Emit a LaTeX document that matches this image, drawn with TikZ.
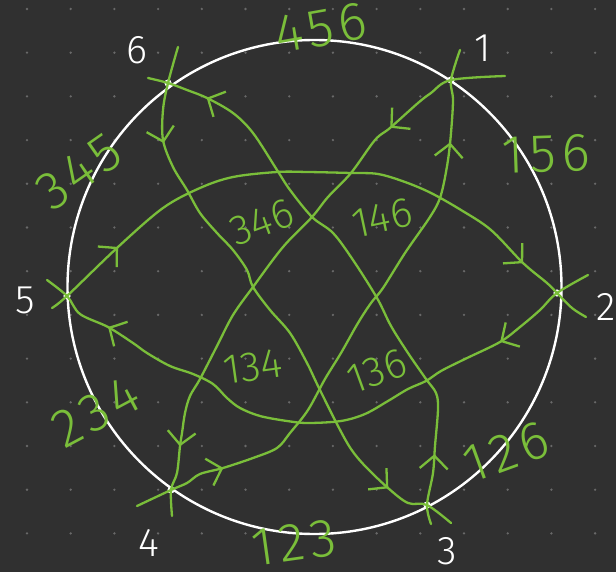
\documentclass[tikz,border=0pt]{standalone}
\usepackage{fontspec}
\newfontfamily\hand{Fira Sans Light}
\newfontfamily\handwide{Fira Sans Light}[LetterSpace=10]
\usetikzlibrary{arrows.meta,decorations.markings}
\definecolor{bg}{RGB}{48,48,48}
\definecolor{gridc}{RGB}{105,105,105}
\definecolor{lgreen}{RGB}{122,190,58}
\tikzset{
  ahead/.tip={Straight Barb[length=13pt,width=28pt]},
  gline/.style={draw=lgreen, line width=2.3pt, line cap=round, line join=round},
  twoarrows/.style 2 args={postaction={decorate}, decoration={markings,
      mark=at position #1 with {\arrow{ahead}},
      mark=at position #2 with {\arrow{ahead}}}},
  wlabel/.style={text=white, font=\hand\fontsize{40}{40}\selectfont, inner sep=0pt},
  olabel/.style={text=lgreen, font=\handwide\fontsize{54}{54}\selectfont, inner sep=0pt},
  ilabel/.style={text=lgreen, font=\hand\fontsize{42}{42}\selectfont, inner sep=0pt},
}
\begin{document}
\begin{tikzpicture}[x=1pt,y=-1pt]
\fill[bg] (0,0) rectangle (616,572);
\useasboundingbox (0,0) rectangle (616,572);
% dot grid
\foreach \i in {0,...,13}{\foreach \j in {0,...,12}{
  \fill[gridc] ({27+43.7*\i},{9+43.7*\j}) circle (1.3pt);}}
% circle and points
\coordinate (cc) at (314.5,287);
\draw[white, line width=2.4pt] (cc) circle (247pt);
\coordinate (p1) at (451,80);
\coordinate (p2) at (557,293);
\coordinate (p3) at (427,505);
\coordinate (p4) at (171,490);
\coordinate (p5) at (67,296);
\coordinate (p6) at (168,83);
\foreach \p in {p1,p2,p3,p4,p5,p6}{\fill[white] (\p) circle (3.6pt);}
% curve E: 5 -> 2 (upper)
\draw[gline, twoarrows={90pt}{-83pt}] plot[smooth, tension=0.55] coordinates {
  (52,308) (p5) (118,247) (163,208) (200,188) (233,177) (277,172) (308,172)
  (351,173) (378,174) (405,182) (431,193) (461,210) (491,230) (523,263)
  (547,283) (p2) (572,308) (586,317)};
% curve F: 2 -> 5 (lower)
\draw[gline, twoarrows={111pt}{-79pt}] plot[smooth, tension=0.55] coordinates {
  (588,275) (p2) (540,310) (520,327) (500,342) (465,359) (441,371) (426,381)
  (408,389) (388,401) (365,414) (341,421) (308,423) (287,421) (260,416)
  (240,408) (227,398) (213,384) (193,374) (170,366) (147,353) (133,343)
  (108,327) (80,314) (p5) (47,280)};
% curve A: 3 -> 6
\draw[gline, twoarrows={71pt}{-62pt}] plot[smooth, tension=0.55] coordinates {
  (431,524) (p3) (433,473) (435,446) (438,409) (436,393) (426,379) (408,353)
  (391,326) (377,298) (353,260) (333,233) (312,217) (290,190) (277,170)
  (253,133) (233,113) (207,98) (187,90) (p6) (148,78)};
% curve B: 6 -> 3
\draw[gline, twoarrows={98pt}{-74pt}] plot[smooth, tension=0.55] coordinates {
  (178,47) (p6) (163,110) (163,140) (173,167) (187,190) (200,213) (217,233)
  (233,250) (247,270) (253,287) (270,310) (290,333) (307,363) (318,386)
  (338,426) (351,449) (365,466) (388,488) (408,503) (p3) (451,523)};
% curve C: 4 -> 1
\draw[gline, twoarrows={95pt}{-94pt}] plot[smooth, tension=0.55] coordinates {
  (137,506) (p4) (187,483) (200,474) (223,468) (253,458) (277,448) (290,433)
  (308,410) (325,379) (341,353) (358,323) (371,303) (383,288) (405,253)
  (428,220) (438,203) (443,187) (448,160) (451,133) (453,100) (p1) (460,50)};
% curve D: 1 -> 4
\draw[gline, twoarrows={132pt}{-71pt}] plot[smooth, tension=0.55] coordinates {
  (505,76) (p1) (431,93) (418,103) (390,128) (375,140) (351,173) (328,197)
  (312,217) (283,247) (253,287) (233,315) (217,346) (200,379) (190,396)
  (185,413) (182,433) (180,446) (177,473) (p4) (172,516)};
% white point labels
\node[wlabel] (l1) at (483,48) {1};
\node[wlabel] (l2) at (606,307) {2};
\node[wlabel] (l3) at (447,551) {3};
\node[wlabel] (l4) at (149,543) {4};
\node[wlabel] (l5) at (25,300) {5};
\node[wlabel] (l6) at (137,50) {6};
% outer green labels
\node[olabel, rotate=10] (t456) at (321,28) {456};
\node[olabel, rotate=2] (t156) at (546,154) {156};
\node[olabel, rotate=20] (t126) at (506,452) {126};
\node[olabel, rotate=8] (t123) at (294,543) {123};
\node[olabel, rotate=28] (t234) at (96,412) {234};
\node[olabel, rotate=35] (t345) at (79,172) {345};
% inner green labels
\node[ilabel, rotate=20] (t346) at (262,222) {346};
\node[ilabel, rotate=12] (t146) at (382,218) {146};
\node[ilabel, rotate=8] (t134) at (253,367) {134};
\node[ilabel, rotate=20] (t136) at (377,371) {136};
\end{tikzpicture}
\end{document}
